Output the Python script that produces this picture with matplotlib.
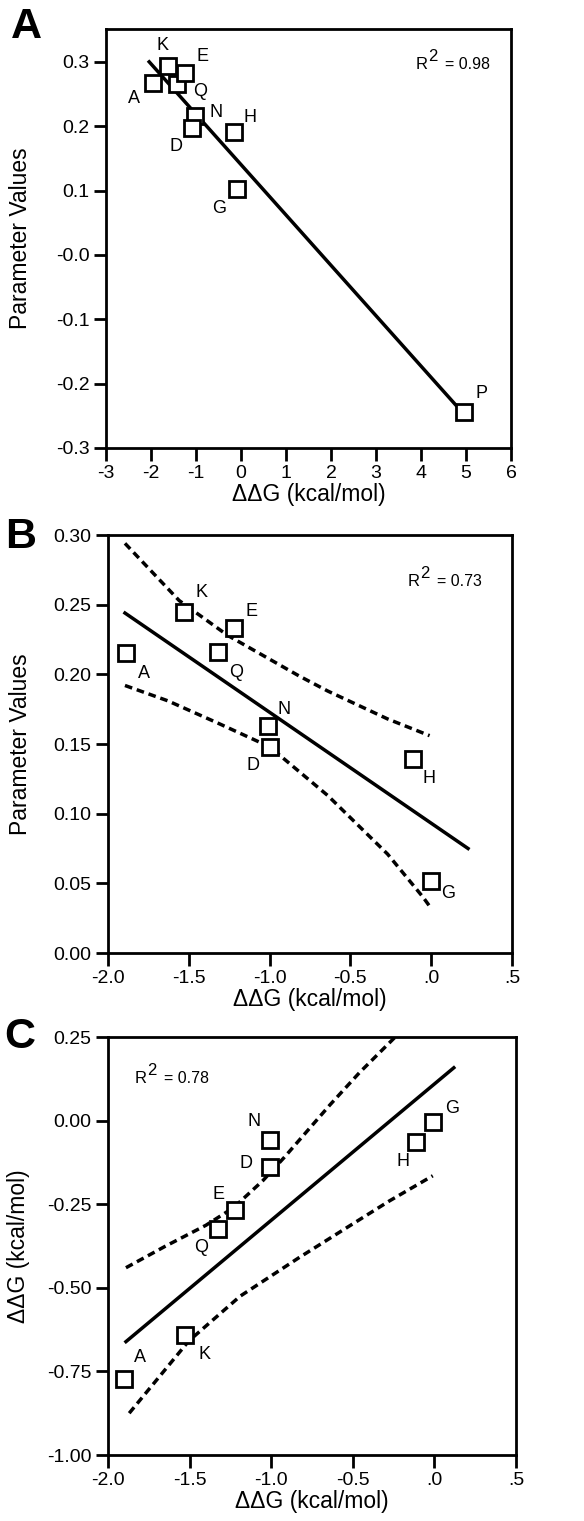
import matplotlib
matplotlib.use('Agg')
import matplotlib.pyplot as plt

plt.rcParams['font.family'] = ['Liberation Sans', 'DejaVu Sans']
plt.rcParams['lines.scale_dashes'] = False

# panel A: parameter values vs ddG, all residues incl. proline
a_names = ['A', 'K', 'Q', 'E', 'N', 'D', 'H', 'G', 'P']
a_x = [-1.95, -1.63, -1.43, -1.24, -1.02, -1.08, -0.15, -0.10, 4.96]
a_y = [0.267, 0.294, 0.266, 0.283, 0.216, 0.197, 0.191, 0.102, -0.244]
a_fit_x = [-2.04, 4.77]
a_fit_y = [0.300, -0.233]

# panel B: parameter values vs ddG without proline
b_names = ['A', 'K', 'Q', 'E', 'N', 'D', 'H', 'G']
b_x = [-1.89, -1.53, -1.32, -1.22, -1.01, -1.00, -0.11, 0.00]
b_y = [0.215, 0.245, 0.216, 0.233, 0.163, 0.148, 0.139, 0.052]
b_fit_x = [-1.895, 0.228]
b_fit_y = [0.244, 0.075]
b_up_x = [-1.895, -1.56, -1.26, -0.82, -0.64, -0.27, -0.01]
b_up_y = [0.294, 0.253, 0.228, 0.199, 0.188, 0.168, 0.156]
b_lo_x = [-1.895, -1.63, -1.32, -1.00, -0.64, -0.27, -0.05, 0.00]
b_lo_y = [0.192, 0.181, 0.165, 0.148, 0.113, 0.071, 0.040, 0.032]

# panel C: ddG vs ddG
c_names = ['A', 'K', 'Q', 'E', 'N', 'D', 'H', 'G']
c_x = [-1.90, -1.53, -1.325, -1.22, -1.01, -1.01, -0.11, -0.01]
c_y = [-0.772, -0.641, -0.323, -0.266, -0.057, -0.138, -0.063, -0.003]
c_fit_x = [-1.89, 0.119]
c_fit_y = [-0.661, 0.158]
c_up_x = [-1.89, -1.65, -1.40, -1.23, -1.05, -0.92, -0.64, -0.46, -0.24]
c_up_y = [-0.44, -0.376, -0.313, -0.26, -0.179, -0.11, 0.047, 0.143, 0.25]
c_lo_x = [-1.87, -1.505, -1.19, -0.83, -0.53, -0.275, -0.01]
c_lo_y = [-0.875, -0.659, -0.525, -0.41, -0.318, -0.240, -0.165]

# label offsets in pixels (dx, dy)
a_off = [(-19, -15), (-5, 20), (23, -8), (17, 16), (21, 3), (-16, -18), (16, 14), (-17, -19), (17, 18)]
b_off = [(18, -20), (18, 19), (18, -20), (17, 17), (16, 16), (-17, -19), (16, -19), (17, -13)]
c_off = [(16, 21), (20, -20), (-17, -19), (-17, 15), (-16, 18), (-24, 3), (-13, -20), (19, 13)]

W, H = 584, 1521
fig = plt.figure(figsize=(W / 100, H / 100), dpi=100)


def add_ax(left, top, right, bottom):
    return fig.add_axes([left / W, 1 - bottom / H, (right - left) / W, (bottom - top) / H])


def style(ax):
    for s in ax.spines.values():
        s.set_linewidth(2)
    ax.tick_params(direction='out', length=9, width=2, labelsize=14, pad=3,
                   top=False, right=False)


def points(ax, xs, ys, names, offs):
    ax.plot(xs, ys, 's', ms=11, mfc='white', mec='black', mew=2, zorder=3)
    for x, y, n, o in zip(xs, ys, names, offs):
        ax.annotate(n, (x, y), xytext=o, textcoords='offset pixels',
                    ha='center', va='center', fontsize=13)


def r2(x, y, val):
    fx, fy = x / W, 1 - y / H
    fig.text(fx, fy, 'R', fontsize=12, va='baseline')
    fig.text(fx + 12 / W, fy + 8 / H, '2', fontsize=12, va='baseline')
    fig.text(fx + 29 / W, fy, '= ' + val, fontsize=11.5, va='baseline')


dash = (0, (5.5, 3.5))
xlab = '\u0394\u0394G (kcal/mol)'

# A
ax = add_ax(106, 29, 511, 448)
style(ax)
ax.plot(a_fit_x, a_fit_y, 'k-', lw=2.5)
points(ax, a_x, a_y, a_names, a_off)
ax.set_xlim(-3, 6)
ax.set_ylim(-0.3, 0.351)
ax.set_xticks(range(-3, 7))
ax.set_xticklabels([str(v) for v in range(-3, 7)])
ax.set_yticks([0.3, 0.2, 0.1, 0.0, -0.1, -0.2, -0.3])
ax.set_yticklabels(['0.3', '0.2', '0.1', '-0.0', '-0.1', '-0.2', '-0.3'])
ax.set_ylabel('Parameter Values', fontsize=16.5)
ax.set_xlabel(xlab, fontsize=16.5, labelpad=1)
ax.yaxis.set_label_coords(-0.183, 0.5)
r2(416, 69, '0.98')

# B
ax = add_ax(108, 535, 512, 953)
style(ax)
ax.plot(b_fit_x, b_fit_y, 'k-', lw=2.5)
ax.plot(b_up_x, b_up_y, 'k', ls=dash, lw=2.5)
ax.plot(b_lo_x, b_lo_y, 'k', ls=dash, lw=2.5)
points(ax, b_x, b_y, b_names, b_off)
ax.set_xlim(-2.0, 0.5)
ax.set_ylim(0.0, 0.30)
ax.set_xticks([-2.0, -1.5, -1.0, -0.5, 0.0, 0.5])
ax.set_xticklabels(['-2.0', '-1.5', '-1.0', '-0.5', '.0', '.5'])
ax.set_yticks([0.0, 0.05, 0.10, 0.15, 0.20, 0.25, 0.30])
ax.set_yticklabels(['0.00', '0.05', '0.10', '0.15', '0.20', '0.25', '0.30'])
ax.set_ylabel('Parameter Values', fontsize=16.5)
ax.set_xlabel(xlab, fontsize=16.5, labelpad=1)
ax.yaxis.set_label_coords(-0.188, 0.5)
r2(408, 586, '0.73')

# C
ax = add_ax(108, 1037, 516, 1455)
style(ax)
ax.plot(c_fit_x, c_fit_y, 'k-', lw=2.5)
ax.plot(c_up_x, c_up_y, 'k', ls=dash, lw=2.5)
ax.plot(c_lo_x, c_lo_y, 'k', ls=dash, lw=2.5)
points(ax, c_x, c_y, c_names, c_off)
ax.set_xlim(-2.0, 0.5)
ax.set_ylim(-1.0, 0.25)
ax.set_xticks([-2.0, -1.5, -1.0, -0.5, 0.0, 0.5])
ax.set_xticklabels(['-2.0', '-1.5', '-1.0', '-0.5', '.0', '.5'])
ax.set_yticks([0.25, 0.0, -0.25, -0.5, -0.75, -1.0])
ax.set_yticklabels(['0.25', '0.00', '-0.25', '-0.50', '-0.75', '-1.00'])
ax.set_ylabel(xlab, fontsize=16.5)
ax.set_xlabel(xlab, fontsize=16.5, labelpad=1)
ax.yaxis.set_label_coords(-0.19, 0.5)
r2(135, 1083, '0.78')

# panel letters
for letter, x, y in [('A', 26, 27), ('B', 21, 537), ('C', 20, 1037)]:
    fig.text(x / W, 1 - y / H, letter, fontsize=31, fontweight='bold',
             ha='center', va='center')

fig.savefig('out.png', dpi=100)
